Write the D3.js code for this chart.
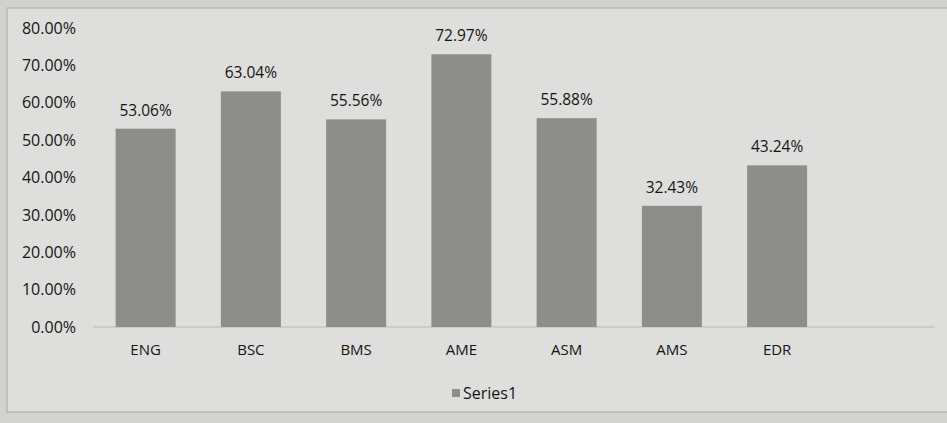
<!DOCTYPE html>
<html lang="en">
<head>
    <meta charset="UTF-8">
    <title>Series1 Bar Chart</title>
    <script src="https://d3js.org/d3.v7.min.js"></script>
    <style>
        body { margin: 0; background: #d2d2d0; }
        text { font-family: "Open Sans", sans-serif; fill: #151515; }
        .tick line, .domain { display: none; }
    </style>
</head>
<body>
    <div id="chart"></div>
    <script>
        const categories = ["ENG", "BSC", "BMS", "AME", "ASM", "AMS", "EDR"];
        const values = [0.5306, 0.6304, 0.5556, 0.7297, 0.5588, 0.3243, 0.4324];
        const yTicks = [0, 0.1, 0.2, 0.3, 0.4, 0.5, 0.6, 0.7, 0.8];
        const seriesName = "Series1";

        const W = 947, H = 423;
        const margin = { top: 28, left: 93, bottom: 96 };
        const plotW = 842;                       // baseline runs past the last bar
        const height = H - margin.top - margin.bottom;

        const svg = d3.select("#chart").append("svg")
            .attr("width", W)
            .attr("height", H);

        // chart frame
        svg.append("rect")
            .attr("x", 7).attr("y", 8)
            .attr("width", W + 10).attr("height", 404)
            .attr("fill", "#dededc")
            .attr("stroke", "#a9a9a7");

        const g = svg.append("g")
            .attr("transform", `translate(${margin.left},${margin.top})`);

        const x = d3.scaleBand()
            .domain(categories)
            .range([0, plotW * 7 / 8])
            .paddingInner(0.43)
            .paddingOuter(0.215);

        const y = d3.scaleLinear()
            .domain([0, 0.8])
            .range([height, 0]);

        const fmt = d3.format(".2%");

        g.append("g")
            .attr("transform", "translate(-6,0)")
            .call(d3.axisLeft(y).tickValues(yTicks).tickFormat(fmt).tickSize(0).tickPadding(11))
            .call(a => a.selectAll("text").attr("font-size", 16).attr("fill", "#151515"));

        // baseline
        g.append("line")
            .attr("x1", 0).attr("x2", plotW)
            .attr("y1", y(0)).attr("y2", y(0))
            .attr("stroke", "#b8b8b6");

        g.append("g")
            .attr("transform", `translate(0,${height})`)
            .call(d3.axisBottom(x).tickSize(0).tickPadding(17))
            .call(a => a.selectAll("text").attr("font-size", 15).attr("fill", "#151515"));

        const data = categories.map((c, i) => ({ cat: c, val: values[i] }));

        g.selectAll(".bar")
            .data(data)
            .enter().append("rect")
            .attr("class", "bar")
            .attr("x", d => x(d.cat))
            .attr("y", d => y(d.val))
            .attr("width", x.bandwidth())
            .attr("height", d => y(0) - y(d.val))
            .attr("fill", "#8d8d8b");

        g.selectAll(".lbl")
            .data(data)
            .enter().append("text")
            .attr("class", "lbl")
            .attr("x", d => x(d.cat) + x.bandwidth() / 2)
            .attr("y", d => y(d.val) - 13)
            .attr("text-anchor", "middle")
            .attr("font-size", 15.5)
            .text(d => fmt(d.val));

        // legend
        const leg = svg.append("g").attr("transform", "translate(452,393)");
        leg.append("rect")
            .attr("x", 0).attr("y", -4)
            .attr("width", 8).attr("height", 8)
            .attr("fill", "#8d8d8b");
        leg.append("text")
            .attr("x", 11).attr("y", 0)
            .attr("dy", "0.35em")
            .attr("font-size", 16)
            .text(seriesName);
    </script>
</body>
</html>
